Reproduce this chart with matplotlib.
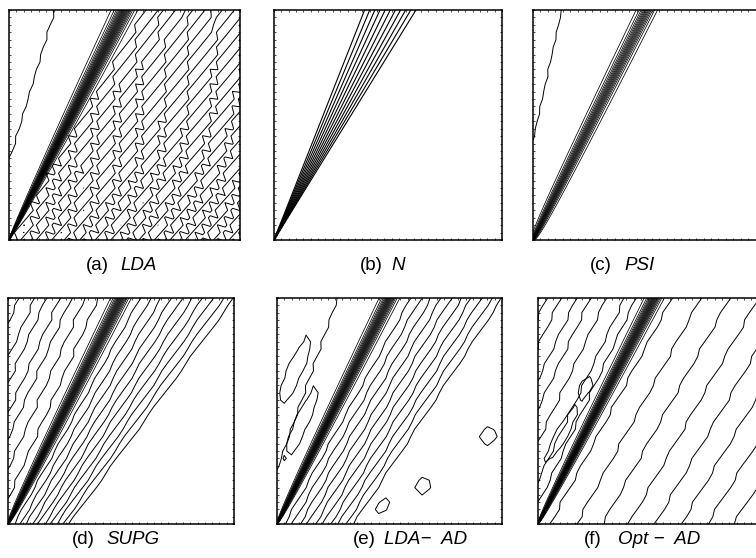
import numpy as np
import matplotlib
matplotlib.use("Agg")
import matplotlib.pyplot as plt

FIG_W, FIG_H = 756, 558

# ---- text ----
panel_labels = ["(a)", "(b)", "(c)", "(d)", "(e)", "(f)"]
method_names = ["LDA", "N", "PSI", "SUPG", "LDA\u2212  AD", "Opt \u2212  AD"]

# ---- layout (pixels: left, top, right, bottom) ----
panel_boxes = [(9, 10, 240, 240), (274, 10, 502, 240), (533, 10, 763, 240),
               (8, 298, 234, 524), (277, 298, 502, 524), (538, 298, 766, 524)]
label_x = [86, 360, 590, 72, 353, 584]
label_y = [265, 265, 265, 539, 539, 539]
name_dx = [34, 31, 34, 34, 31, 34]

# ---- discontinuity (front) through the lower-left corner ----
front_slope = [0.50, 0.51, 0.495, 0.50, 0.50, 0.51]      # x-position of front at top
front_width = [0.06, 0.135, 0.055, 0.05, 0.05, 0.048]    # half-width scale at top
front_width_power = [0.7, 1.0, 0.3, 0.45, 0.5, 0.5]
front_profile = ["tanh", "linear", "tanh", "tanh", "tanh", "tanh"]
front_nlev = [22, 11, 15, 19, 19, 19]
front_lw = [0.55, 0.8, 0.55, 0.55, 0.55, 0.55]

# ---- contours upstream (left of the front) ----
left_slope = [0.30, 0.0, 0.22, 0.45, 0.355, 0.47]
left_levels = [[0.102], [], [0.095],
               [0.05, 0.11, 0.17, 0.22, 0.28, 0.33, 0.40],
               [0.085],
               [0.04, 0.09, 0.17, 0.24, 0.30, 0.37, 0.43]]
left_wiggle = [0.006, 0.0, 0.004, 0.008, 0.007, 0.008]

# ---- contours downstream (right of the front) ----
right_x1 = [0.57, 0.0, 0.0, 0.54, 0.55, 0.53]
right_d0 = [0.6, 1.0, 1.0, 0.27, 0.34, 1.0]
right_d1 = [0.1, 0.0, 0.0, 0.19, 0.11, 0.1]
right_levels = [list(np.arange(0.03, 1.7, 0.06)), [], [],
                [0.1, 0.2, 0.3, 0.4, 0.5, 0.6, 0.7, 0.8, 0.9, 1.0],
                [0.1, 0.2, 0.3, 0.4, 0.5, 0.6, 0.7, 0.8, 0.9, 1.0],
                [0.053, 0.168, 0.283, 0.398, 0.513, 0.628, 0.743, 0.858, 0.973, 1.088]]
right_wiggle = [0.03, 0.0, 0.0, 0.005, 0.006, 0.008]
right_wiggle_top = [0.45, 1.0, 1.0, 1.0, 1.0, 1.0]   # wiggle factor at top vs bottom

# ---- small closed contours (islands) ----
island_panel = [4, 4, 4, 4, 4, 5, 5]
island_cx = [0.08, 0.11, 0.65, 0.94, 0.47, 0.21, 0.105]
island_cy = [0.68, 0.45, 0.17, 0.39, 0.08, 0.61, 0.40]
island_len = [0.20, 0.22, 0.05, 0.05, 0.05, 0.05, 0.19]
island_wid = [0.04, 0.035, 0.035, 0.04, 0.03, 0.025, 0.03]
island_slope = [0.43, 0.44, 0.7, 0.7, 0.7, 0.3, 0.53]

N_COARSE = 32
N_FINE = 241

xc = np.linspace(0, 1, N_COARSE)
Xc, Yc = np.meshgrid(xc, xc)
idx = np.arange(N_COARSE)
checker = (-1.0) ** np.add.outer(idx, idx)

xf = np.linspace(0, 1, N_FINE)
Xf, Yf = np.meshgrid(xf, xf)

LW = 0.7
fig = plt.figure(figsize=(FIG_W / 100, FIG_H / 100), dpi=100)

for p in range(6):
    l, t, r, b = panel_boxes[p]
    ax = fig.add_axes([l / FIG_W, 1 - b / FIG_H, (r - l) / FIG_W, (b - t) / FIG_H])
    s = front_slope[p]

    # front
    w = 1e-4 + front_width[p] * Yf ** front_width_power[p]
    z = (Xf - s * Yf) / w
    if front_profile[p] == "linear":
        Hf = np.clip(0.5 - 0.5 * z, 0, 1)
    else:
        Hf = 0.5 * (1 - np.tanh(1.6 * z))
    n = front_nlev[p]
    lev = [(k + 1) / (n + 1) for k in range(n)]
    ax.contour(Xf, Yf, Hf, levels=lev, colors="k", linewidths=front_lw[p])

    # left
    if left_levels[p]:
        L = left_slope[p] * Yc - Xc + left_wiggle[p] * checker
        ax.contour(Xc, Yc, L, levels=left_levels[p], colors="k", linewidths=LW)

    # right
    if right_levels[p]:
        amp = right_wiggle[p] * (1 + (right_wiggle_top[p] - 1) * Yc)
        R = (Xc - right_x1[p] * Yc + amp * checker) / (right_d0[p] + right_d1[p] * Yc)
        ax.contour(Xc, Yc, R, levels=right_levels[p], colors="k", linewidths=LW)

    # islands
    B = np.zeros_like(Xc)
    has = False
    for k in range(len(island_panel)):
        if island_panel[k] != p:
            continue
        has = True
        sl = island_slope[k]
        nrm = np.hypot(sl, 1.0)
        ex, ey = sl / nrm, 1.0 / nrm
        dx, dy = Xc - island_cx[k], Yc - island_cy[k]
        u = dx * ex + dy * ey
        v = -dx * ey + dy * ex
        B = B + np.exp(-(u / island_len[k]) ** 2 - (v / island_wid[k]) ** 2)
    if has:
        ax.contour(Xc, Yc, B + 0.08 * checker, levels=[0.5], colors="k", linewidths=LW)

    ax.set_xlim(0, 1)
    ax.set_ylim(0, 1)
    ticks = np.linspace(0, 1, N_COARSE)
    ax.set_xticks(ticks)
    ax.set_yticks(ticks)
    ax.tick_params(direction="in", length=1.5, width=0.5, top=True, right=True,
                   labelbottom=False, labelleft=False)
    for sp in ax.spines.values():
        sp.set_linewidth(1.1)

    fx = label_x[p] / FIG_W
    fy = 1 - label_y[p] / FIG_H
    fig.text(fx, fy, panel_labels[p], ha="left", va="center",
             fontsize=13.5, family="Liberation Sans")
    fig.text((label_x[p] + name_dx[p]) / FIG_W, fy, method_names[p], ha="left", va="center",
             fontsize=13.5, family="Liberation Sans", style="italic")

fig.savefig("out.png", dpi=100)
